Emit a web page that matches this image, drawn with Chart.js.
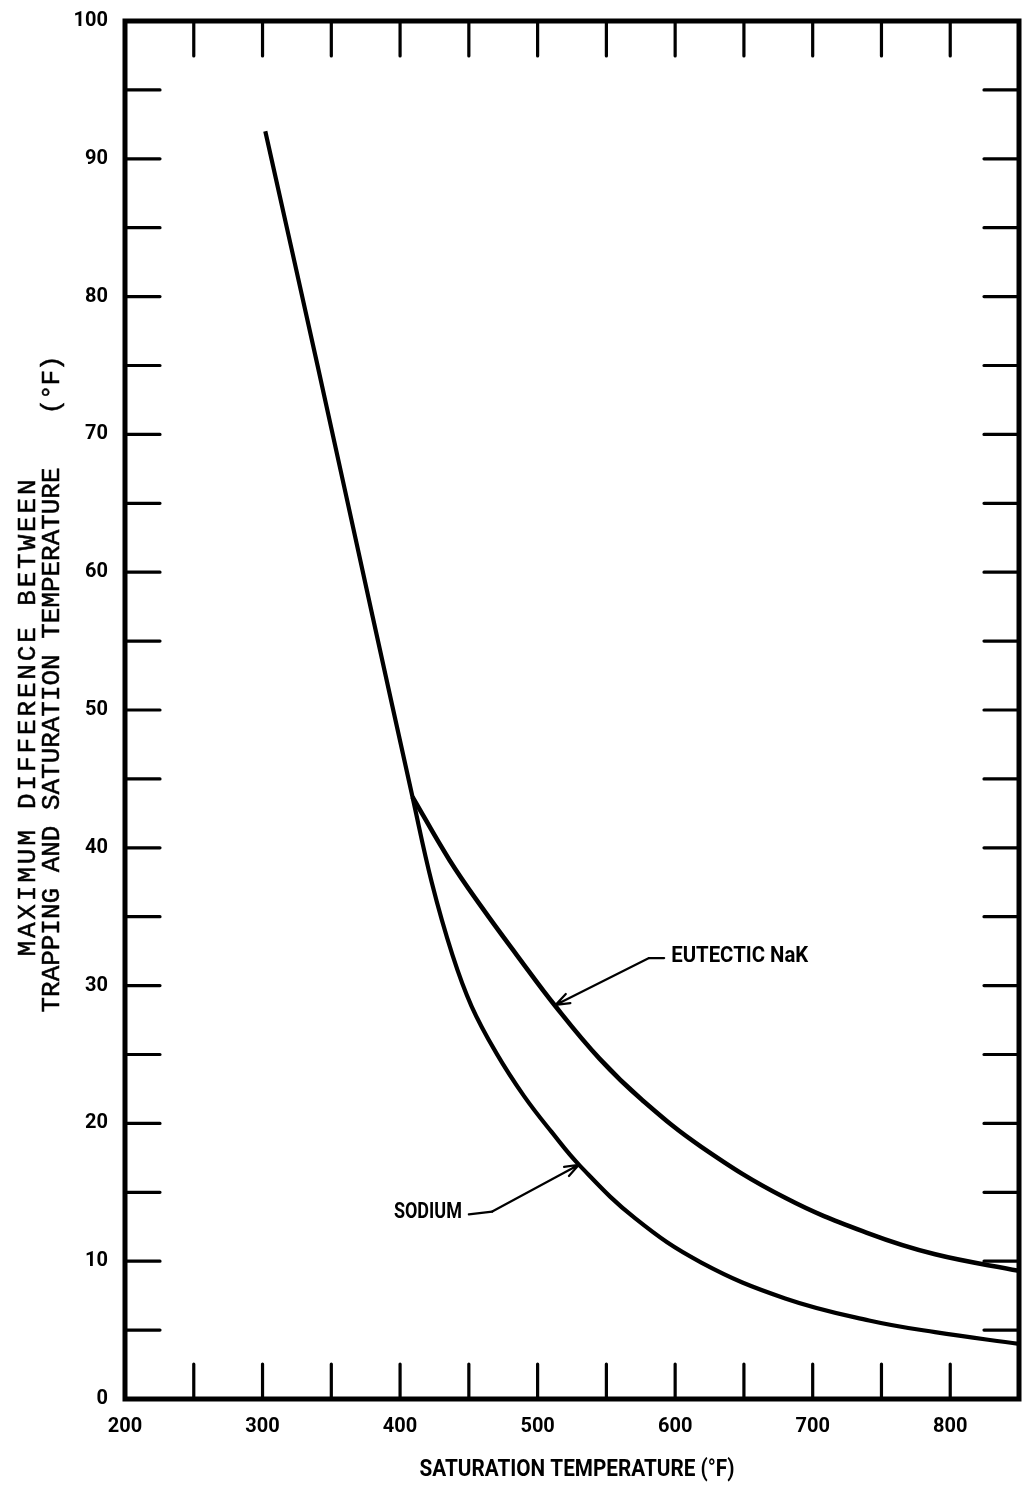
<!DOCTYPE html>
<html>
<head>
<meta charset="utf-8">
<script src="https://cdn.jsdelivr.net/npm/chart.js@4.4.1/dist/chart.umd.min.js"></script>
<style>
  html, body { margin: 0; padding: 0; background: #fff; }
  canvas { display: block; }
</style>
</head>
<body>
<canvas id="grafica" width="1030" height="1486"></canvas>
<script>
// saturation temperature (F) -> max difference trapping/saturation (F)
// both curves share the steep part up to ~409 F, drawn with the sodium curve
const sodiumTemp = [302, 340, 380, 409, 423, 438, 452, 470, 490, 510, 531, 571, 619, 680, 741, 789, 850];
const sodiumDiff = [92, 75.0, 56.8, 43.7, 37.5, 32.25, 28.5, 25.1, 22.0, 19.4, 16.9, 13.1, 9.9, 7.3, 5.7, 4.85, 4.0];

// eutectic NaK branch, from the split point
const nakTemp = [409, 436, 460, 485, 513, 545, 576, 619, 680, 741, 789, 850];
const nakDiff = [43.7, 39.1, 35.6, 32.2, 28.5, 24.7, 21.7, 18.3, 14.6, 12.0, 10.5, 9.3];

// inward tick marks
const xMinorTicks = [250, 300, 350, 400, 450, 500, 550, 600, 650, 700, 750, 800];
const yMinorTicks = [5, 10, 15, 20, 25, 30, 35, 40, 45, 50, 55, 60, 65, 70, 75, 80, 85, 90, 95];

const xTitle = "SATURATION TEMPERATURE (°F)";
const yTitle1 = "MAXIMUM DIFFERENCE BETWEEN";
const yTitle2 = "TRAPPING AND SATURATION TEMPERATURE";
const yTitleUnit = "(°F)";

const leroy = "Roboto, 'DejaVu Sans', sans-serif";
const typewriter = "'Liberation Mono', 'DejaVu Sans Mono', monospace";

// text squeezed/stretched to a given width
function fitText(ctx, text, x, y, font, width, rot) {
  ctx.save();
  ctx.font = font;
  ctx.translate(x, y);
  if (rot) ctx.rotate(rot);
  const w = ctx.measureText(text).width;
  ctx.scale(width / w, 1);
  ctx.textAlign = "center";
  ctx.textBaseline = "middle";
  ctx.fillStyle = "#000";
  ctx.fillText(text, 0, 0);
  ctx.restore();
}

// typewriter style: every char on a fixed pitch
function typeText(ctx, text, x, y, font, width, rot) {
  ctx.save();
  ctx.font = font;
  ctx.translate(x, y);
  if (rot) ctx.rotate(rot);
  ctx.textAlign = "center";
  ctx.textBaseline = "middle";
  ctx.fillStyle = "#000";
  ctx.strokeStyle = "#000";
  ctx.lineWidth = 0.5;
  const pitch = width / text.length;
  for (let i = 0; i < text.length; i++) {
    const cx = -width / 2 + pitch * (i + 0.5);
    ctx.fillText(text[i], cx, 0);
    ctx.strokeText(text[i], cx, 0);
  }
  ctx.restore();
}

function arrow(ctx, x0, y0, x1, y1) {
  ctx.beginPath();
  ctx.moveTo(x0, y0);
  ctx.lineTo(x1, y1);
  const a = Math.atan2(y1 - y0, x1 - x0);
  const L = 15;
  ctx.moveTo(x1, y1);
  ctx.lineTo(x1 - L * Math.cos(a - 0.35), y1 - L * Math.sin(a - 0.35));
  ctx.moveTo(x1, y1);
  ctx.lineTo(x1 - L * Math.cos(a + 0.35), y1 - L * Math.sin(a + 0.35));
  ctx.stroke();
}

const fondo = {
  id: "fondo",
  beforeDraw(chart) {
    const { ctx } = chart;
    ctx.save();
    ctx.fillStyle = "#fff";
    ctx.fillRect(0, 0, chart.width, chart.height);
    ctx.restore();
  },
};

const marco = {
  id: "marco",
  afterDraw(chart) {
    const { ctx, chartArea: { left, right, top, bottom }, scales: { x, y } } = chart;
    ctx.save();
    ctx.strokeStyle = "#000";
    ctx.lineCap = "round";

    // frame
    ctx.lineWidth = 5;
    ctx.strokeRect(left, top, right - left, bottom - top);

    // inward ticks on all four sides
    ctx.lineWidth = 3.2;
    const tl = 35;
    ctx.beginPath();
    xMinorTicks.forEach((v) => {
      const px = x.getPixelForValue(v);
      ctx.moveTo(px, bottom);
      ctx.lineTo(px, bottom - tl);
      ctx.moveTo(px, top);
      ctx.lineTo(px, top + tl);
    });
    yMinorTicks.forEach((v) => {
      const py = y.getPixelForValue(v);
      ctx.moveTo(left, py);
      ctx.lineTo(left + tl, py);
      ctx.moveTo(right, py);
      ctx.lineTo(right - tl, py);
    });
    ctx.stroke();

    // curve labels with leaders
    ctx.lineWidth = 2.2;
    const nx = (v) => x.getPixelForValue(v);
    const ny = (v) => y.getPixelForValue(v);

    ctx.beginPath();
    ctx.moveTo(nx(592), ny(32.0));
    ctx.lineTo(nx(581), ny(32.0));
    ctx.stroke();
    arrow(ctx, nx(581), ny(32.0), nx(513), ny(28.6));
    fitText(ctx, "EUTECTIC NaK", nx(597.5) + 68, ny(32.1), "bold 22px " + leroy, 137);

    ctx.beginPath();
    ctx.moveTo(nx(450), ny(13.4));
    ctx.lineTo(nx(467), ny(13.6));
    ctx.stroke();
    arrow(ctx, nx(467), ny(13.6), nx(530), ny(17.0));
    fitText(ctx, "SODIUM", nx(395.5) + 34, ny(13.5), "bold 22px " + leroy, 68);

    // axis titles
    fitText(ctx, xTitle, 577, 1470, "bold 24px " + leroy, 315);
    typeText(ctx, yTitle1, 28, 718, "26px " + typewriter, 480, -Math.PI / 2);
    typeText(ctx, yTitle2, 52, 740, "26px " + typewriter, 545, -Math.PI / 2);
    typeText(ctx, yTitleUnit, 52, 385, "26px " + typewriter, 58, -Math.PI / 2);

    ctx.restore();
  },
};

const tickFont = { family: leroy, weight: "bold", size: 20 };

new Chart(document.getElementById("grafica"), {
  type: "line",
  data: {
    datasets: [
      {
        label: "Sodium",
        data: sodiumTemp.map((t, i) => ({ x: t, y: sodiumDiff[i] })),
        borderColor: "#000",
        borderWidth: 4.2,
        pointRadius: 0,
        tension: 0.4,
        fill: false,
      },
      {
        label: "Eutectic NaK",
        data: nakTemp.map((t, i) => ({ x: t, y: nakDiff[i] })),
        borderColor: "#000",
        borderWidth: 4.6,
        pointRadius: 0,
        tension: 0.4,
        fill: false,
      },
    ],
  },
  options: {
    responsive: false,
    animation: false,
    devicePixelRatio: 1,
    layout: { padding: { top: 19, right: 11, left: 0, bottom: 0 } },
    plugins: { legend: { display: false }, tooltip: { enabled: false } },
    scales: {
      x: {
        type: "linear",
        min: 200,
        max: 850,
        ticks: { stepSize: 100, includeBounds: false, color: "#000", font: tickFont, padding: 8, maxRotation: 0 },
        grid: { display: false },
        border: { display: false },
        afterFit(s) { s.height = 87; },
      },
      y: {
        min: 0,
        max: 100,
        ticks: { stepSize: 10, color: "#000", font: tickFont, padding: 9 },
        grid: { display: false },
        border: { display: false },
        afterFit(s) { s.width = 125; },
      },
    },
  },
  plugins: [fondo, marco],
});
</script>
</body>
</html>
